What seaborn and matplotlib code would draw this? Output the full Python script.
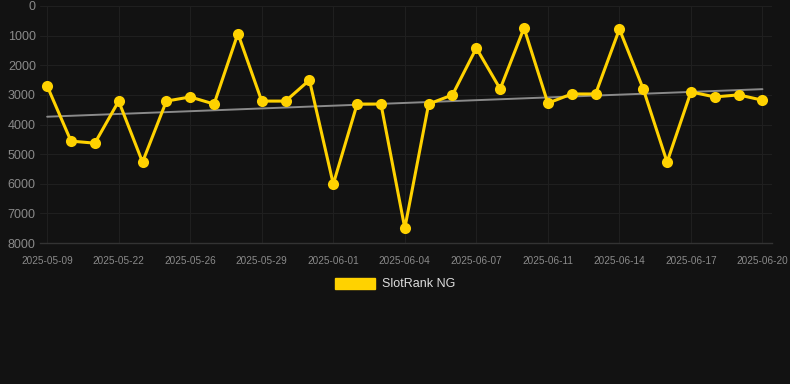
import matplotlib
matplotlib.use("Agg")
import matplotlib.pyplot as plt
import matplotlib.patches as mpatches
import seaborn as sns
import numpy as np
import pandas as pd

dates = ["2025-05-09", "2025-05-19", "2025-05-21", "2025-05-22", "2025-05-23", "2025-05-24",
         "2025-05-26", "2025-05-27", "2025-05-28", "2025-05-29", "2025-05-30", "2025-05-31",
         "2025-06-01", "2025-06-02", "2025-06-03", "2025-06-04", "2025-06-05", "2025-06-06",
         "2025-06-07", "2025-06-08", "2025-06-10", "2025-06-11", "2025-06-12", "2025-06-13",
         "2025-06-14", "2025-06-15", "2025-06-16", "2025-06-17", "2025-06-18", "2025-06-19",
         "2025-06-20"]
ranks = [2700, 4560, 4630, 3210, 5270, 3210, 3070, 3310, 930, 3210, 3210, 2500,
         6010, 3310, 3310, 7500, 3310, 3000, 1420, 2800, 740, 3280, 2970, 2970,
         780, 2800, 5270, 2900, 3070, 3000, 3180]
series_name = "SlotRank NG"
yticks = [0, 1000, 2000, 3000, 4000, 5000, 6000, 7000, 8000]

bg = "#121212"
yellow = "#FFD200"
df = pd.DataFrame({"idx": np.arange(len(dates)), "date": dates, "rank": ranks})

sns.set_theme(style="dark")
plt.rcParams["font.family"] = ["Liberation Sans", "DejaVu Sans"]
fig = plt.figure(figsize=(7.9, 3.84), dpi=100, facecolor=bg)
ax = fig.add_axes([40/790, 1-243/384, 732/790, 237/384])
ax.set_facecolor(bg)

sns.regplot(data=df, x="idx", y="rank", ax=ax, scatter=False, ci=None,
            line_kws=dict(color="#8a8a8a", lw=1.4), truncate=True)
sns.lineplot(data=df, x="idx", y="rank", ax=ax, color=yellow, lw=2.2,
             marker="o", markersize=8, markeredgewidth=0, zorder=3)

ax.set_ylim(8000, 0)
ax.set_xlim(-0.3, 30.4)
ax.set_yticks(yticks)
ax.set_yticklabels([str(v) for v in yticks], color="#8a8a8a", fontsize=9)
tick_idx = list(range(0, len(dates), 3))
ax.set_xticks(tick_idx)
ax.set_xticklabels([dates[i] for i in tick_idx], color="#8a8a8a", fontsize=7.2)
ax.tick_params(axis="y", length=0, pad=3)
ax.tick_params(axis="x", length=0, pad=9)
ax.grid(True, color="#1f1f1f", lw=0.8)
ax.set_xlabel("")
ax.set_ylabel("")
for s in ["top", "right", "left"]:
    ax.spines[s].set_visible(False)
ax.spines["bottom"].set_color("#333333")
ax.spines["bottom"].set_linewidth(1)

handle = mpatches.Patch(color=yellow, label=series_name)
leg = fig.legend(handles=[handle], loc="center", bbox_to_anchor=(0.5, 1-284/384),
                 frameon=False, fontsize=9, handlelength=3.2, handleheight=1.0,
                 handletextpad=0.6)
for t in leg.get_texts():
    t.set_color("#dddddd")

fig.savefig("out.png", dpi=100, facecolor=bg)
